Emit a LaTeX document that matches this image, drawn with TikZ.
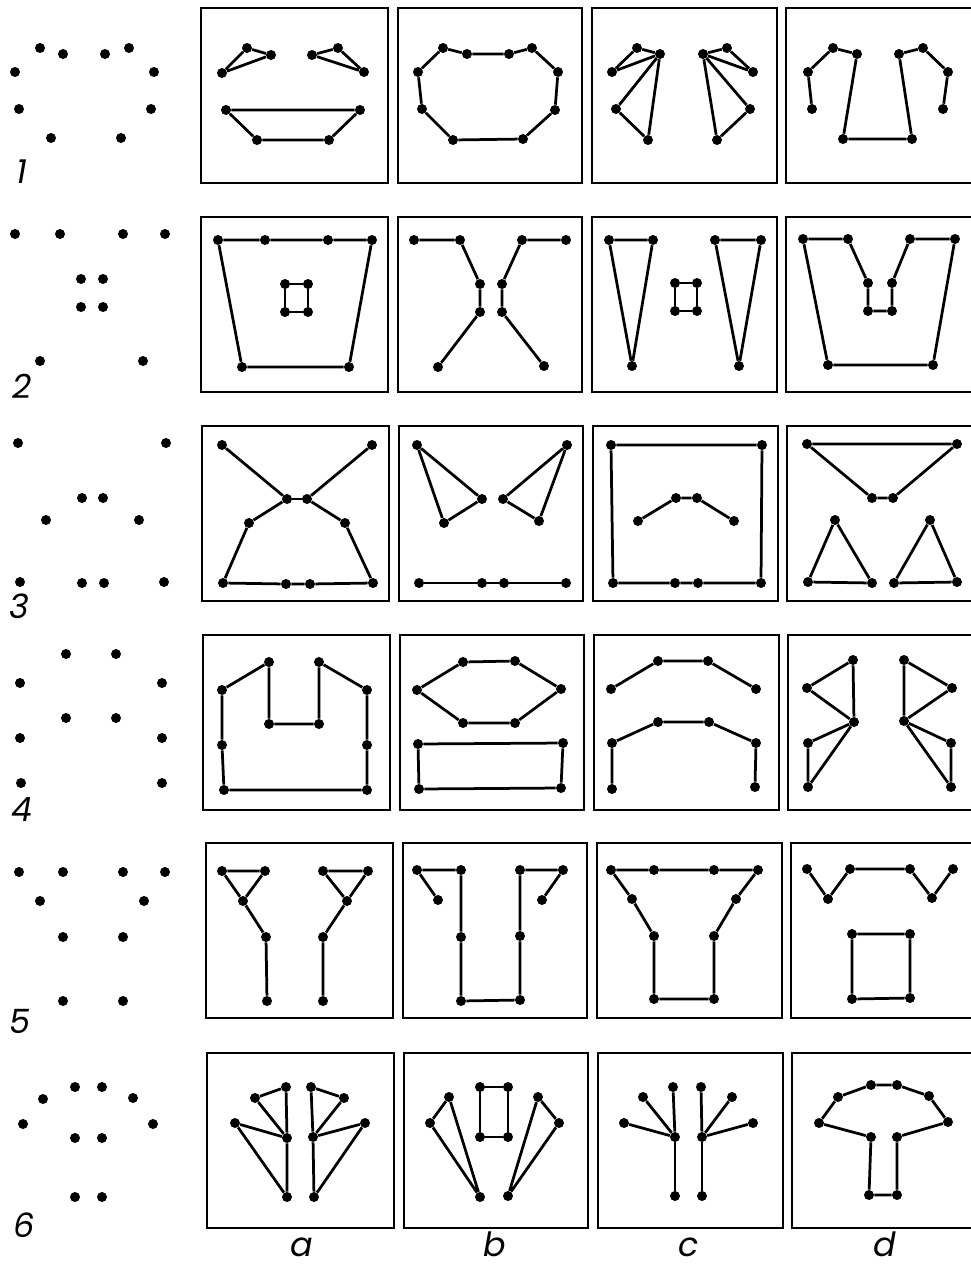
\documentclass[tikz,border=0pt]{standalone}
\usepackage{fontspec}
\newfontfamily\tagfont{Poppins}
\tikzset{
  spot/.style={circle, fill, inner sep=0pt, minimum size=2mm},
  link/.style={line width=0.55mm, line join=round},
  panel/.style={line width=0.3mm},
  tag/.style={anchor=base, inner sep=0pt, font=\tagfont\itshape\fontsize{19}{22}\selectfont}
}
\begin{document}
\begin{tikzpicture}[x=0.2mm, y=-0.2mm]
    \useasboundingbox (0,0) rectangle (971,1270);

    % Panels of the four answers
    \foreach \top/\dx in {8/0, 217/0, 426/1, 635/2, 843/5, 1053/6}
      \foreach \l/\r in {201/388, 398/582, 592/777, 786/972}
        \draw[panel] ({\l+\dx},\top) rectangle ({\r+\dx},{\top+175});

    % Row numbers and column letters
    \node[tag] (n1) at (22,183) {1};
    \node[tag] (n2) at (22,398) {2};
    \node[tag] (n3) at (19,618) {3};
    \node[tag] (n4) at (22,821) {4};
    \node[tag] (n5) at (20,1033) {5};
    \node[tag] (n6) at (24,1237) {6};
    \node[tag] (ca) at (302,1256) {a};
    \node[tag] (cb) at (495,1256) {b};
    \node[tag] (cc) at (689,1256) {c};
    \node[tag] (cd) at (885,1256) {d};

    % Row 1
    \foreach \i/\x/\y in {1/40/48, 2/63/54, 3/105/54, 4/129/48, 5/15/72, 6/154/72, 7/19/109, 8/151/109, 9/51/138, 10/121/138}
      \node[spot] (q1-\i) at (\x,\y) {};
    \foreach \i/\x/\y in {1/247/48, 2/271/55, 3/222/73, 4/312/55, 5/338/48, 6/364/72, 7/226/110, 8/360/110, 9/257/140, 10/329/140}
      \node[spot] (1a-\i) at (\x,\y) {};
    \draw[link] (1a-3) -- (1a-1) -- (1a-2) -- (1a-3);
    \draw[link] (1a-4) -- (1a-5) -- (1a-6) -- (1a-4);
    \draw[link] (1a-7) -- (1a-8) -- (1a-10) -- (1a-9) -- (1a-7);
    \foreach \i/\x/\y in {1/443/48, 2/467/54, 3/509/54, 4/532/48, 5/558/72, 6/555/110, 7/523/139, 8/453/140, 9/422/109, 10/418/72}
      \node[spot] (1b-\i) at (\x,\y) {};
    \draw[link] (1b-1) -- (1b-2) -- (1b-3) -- (1b-4) -- (1b-5) -- (1b-6) -- (1b-7) -- (1b-8) -- (1b-9) -- (1b-10) -- (1b-1);
    \foreach \i/\x/\y in {1/637/48, 2/660/54, 3/612/72, 4/616/109, 5/648/140, 6/703/54, 7/727/48, 8/753/72, 9/750/109, 10/717/140}
      \node[spot] (1c-\i) at (\x,\y) {};
    \draw[link] (1c-3) -- (1c-1) -- (1c-2) -- (1c-3);
    \draw[link] (1c-2) -- (1c-4) -- (1c-5) -- (1c-2);
    \draw[link] (1c-6) -- (1c-7) -- (1c-8) -- (1c-6);
    \draw[link] (1c-6) -- (1c-9) -- (1c-10) -- (1c-6);
    \foreach \i/\x/\y in {1/812/109, 2/808/72, 3/833/48, 4/857/54, 5/843/139, 6/912/139, 7/899/54, 8/923/48, 9/948/72, 10/943/109}
      \node[spot] (1d-\i) at (\x,\y) {};
    \draw[link] (1d-1) -- (1d-2) -- (1d-3) -- (1d-4) -- (1d-5) -- (1d-6) -- (1d-7) -- (1d-8) -- (1d-9) -- (1d-10);

    % Row 2
    \foreach \i/\x/\y in {1/15/234, 2/60/234, 3/123/234, 4/165/234, 5/81/279, 6/103/279, 7/81/307, 8/103/307, 9/40/361, 10/143/361}
      \node[spot] (q2-\i) at (\x,\y) {};
    \foreach \i/\x/\y in {1/218/240, 2/265/240, 3/328/240, 4/372/240, 5/349/367, 6/242/367, 7/285/284, 8/308/284, 9/308/312, 10/285/312}
      \node[spot] (2a-\i) at (\x,\y) {};
    \draw[link] (2a-1) -- (2a-2) -- (2a-3) -- (2a-4) -- (2a-5) -- (2a-6) -- (2a-1);
    \draw[link] (2a-7) -- (2a-8) -- (2a-9) -- (2a-10) -- (2a-7);
    \foreach \i/\x/\y in {1/414/240, 2/460/240, 3/480/284, 4/480/312, 5/438/367, 6/566/240, 7/522/240, 8/502/284, 9/502/312, 10/544/366}
      \node[spot] (2b-\i) at (\x,\y) {};
    \draw[link] (2b-1) -- (2b-2) -- (2b-3) -- (2b-4) -- (2b-5);
    \draw[link] (2b-6) -- (2b-7) -- (2b-8) -- (2b-9) -- (2b-10);
    \foreach \i/\x/\y in {1/609/240, 2/653/240, 3/632/366, 4/715/240, 5/761/240, 6/739/366, 7/675/283, 8/697/283, 9/697/311, 10/675/311}
      \node[spot] (2c-\i) at (\x,\y) {};
    \draw[link] (2c-1) -- (2c-2) -- (2c-3) -- (2c-1);
    \draw[link] (2c-4) -- (2c-5) -- (2c-6) -- (2c-4);
    \draw[link] (2c-7) -- (2c-8) -- (2c-9) -- (2c-10) -- (2c-7);
    \foreach \i/\x/\y in {1/803/239, 2/848/239, 3/868/283, 4/868/311, 5/892/311, 6/892/283, 7/910/239, 8/955/239, 9/933/365, 10/828/365}
      \node[spot] (2d-\i) at (\x,\y) {};
    \draw[link] (2d-1) -- (2d-2) -- (2d-3) -- (2d-4) -- (2d-5) -- (2d-6) -- (2d-7) -- (2d-8) -- (2d-9) -- (2d-10) -- (2d-1);

    % Row 3
    \foreach \i/\x/\y in {1/18/443, 2/166/443, 3/82/498, 4/103/498, 5/46/520, 6/139/520, 7/20/582, 8/82/583, 9/104/583, 10/164/582}
      \node[spot] (q3-\i) at (\x,\y) {};
    \foreach \i/\x/\y in {1/222/445, 2/372/445, 3/287/499, 4/307/499, 5/249/523, 6/345/523, 7/223/583, 8/286/584, 9/310/584, 10/373/583}
      \node[spot] (3a-\i) at (\x,\y) {};
    \draw[link] (3a-1) -- (3a-3) -- (3a-5) -- (3a-7) -- (3a-8) -- (3a-9) -- (3a-10) -- (3a-6) -- (3a-4) -- (3a-2);
    \draw[link] (3a-3) -- (3a-4);
    \foreach \i/\x/\y in {1/417/445, 2/482/499, 3/444/523, 4/567/445, 5/503/499, 6/539/521, 7/419/583, 8/482/583, 9/504/583, 10/566/583}
      \node[spot] (3b-\i) at (\x,\y) {};
    \draw[link] (3b-1) -- (3b-2) -- (3b-3) -- (3b-1);
    \draw[link] (3b-4) -- (3b-5) -- (3b-6) -- (3b-4);
    \draw[link] (3b-7) -- (3b-8) -- (3b-9) -- (3b-10);
    \foreach \i/\x/\y in {1/611/445, 2/762/445, 3/761/583, 4/698/583, 5/675/583, 6/613/583, 7/638/521, 8/676/498, 9/697/498, 10/734/521}
      \node[spot] (3c-\i) at (\x,\y) {};
    \draw[link] (3c-1) -- (3c-2) -- (3c-3) -- (3c-4) -- (3c-5) -- (3c-6) -- (3c-1);
    \draw[link] (3c-7) -- (3c-8) -- (3c-9) -- (3c-10);
    \foreach \i/\x/\y in {1/807/444, 2/957/444, 3/893/498, 4/872/498, 5/835/520, 6/808/582, 7/872/583, 8/930/520, 9/894/583, 10/957/582}
      \node[spot] (3d-\i) at (\x,\y) {};
    \draw[link] (3d-1) -- (3d-2) -- (3d-3) -- (3d-4) -- (3d-1);
    \draw[link] (3d-5) -- (3d-6) -- (3d-7) -- (3d-5);
    \draw[link] (3d-8) -- (3d-9) -- (3d-10) -- (3d-8);

    % Row 4
    \foreach \i/\x/\y in {1/66/654, 2/116/654, 3/20/683, 4/162/683, 5/66/718, 6/116/718, 7/20/738, 8/162/738, 9/21/783, 10/162/783}
      \node[spot] (q4-\i) at (\x,\y) {};
    \foreach \i/\x/\y in {1/222/690, 2/269/662, 3/269/724, 4/319/724, 5/319/662, 6/367/690, 7/367/745, 8/367/790, 9/224/790, 10/222/745}
      \node[spot] (4a-\i) at (\x,\y) {};
    \draw[link] (4a-1) -- (4a-2) -- (4a-3) -- (4a-4) -- (4a-5) -- (4a-6) -- (4a-7) -- (4a-8) -- (4a-9) -- (4a-10) -- (4a-1);
    \foreach \i/\x/\y in {1/417/690, 2/463/662, 3/515/661, 4/561/689, 5/515/723, 6/463/723, 7/418/744, 8/563/743, 9/561/788, 10/419/789}
      \node[spot] (4b-\i) at (\x,\y) {};
    \draw[link] (4b-1) -- (4b-2) -- (4b-3) -- (4b-4) -- (4b-5) -- (4b-6) -- (4b-1);
    \draw[link] (4b-7) -- (4b-8) -- (4b-9) -- (4b-10) -- (4b-7);
    \foreach \i/\x/\y in {1/611/689, 2/658/661, 3/708/661, 4/756/689, 5/612/789, 6/612/743, 7/658/722, 8/709/722, 9/756/743, 10/755/787}
      \node[spot] (4c-\i) at (\x,\y) {};
    \draw[link] (4c-1) -- (4c-2) -- (4c-3) -- (4c-4);
    \draw[link] (4c-5) -- (4c-6) -- (4c-7) -- (4c-8) -- (4c-9) -- (4c-10);
    \foreach \i/\x/\y in {1/853/660, 2/807/688, 3/854/722, 4/808/743, 5/808/787, 6/904/660, 7/952/688, 8/904/721, 9/951/743, 10/951/787}
      \node[spot] (4d-\i) at (\x,\y) {};
    \draw[link] (4d-1) -- (4d-2) -- (4d-3) -- (4d-1);
    \draw[link] (4d-3) -- (4d-4) -- (4d-5) -- (4d-3);
    \draw[link] (4d-6) -- (4d-7) -- (4d-8) -- (4d-6);
    \draw[link] (4d-8) -- (4d-9) -- (4d-10) -- (4d-8);

    % Row 5
    \foreach \i/\x/\y in {1/19/872, 2/63/872, 3/123/872, 4/165/872, 5/40/901, 6/144/901, 7/63/937, 8/123/937, 9/63/1001, 10/123/1001}
      \node[spot] (q5-\i) at (\x,\y) {};
    \foreach \i/\x/\y in {1/222/871, 2/265/871, 3/243/901, 4/266/937, 5/267/1001, 6/323/871, 7/368/871, 8/347/901, 9/323/937, 10/323/1001}
      \node[spot] (5a-\i) at (\x,\y) {};
    \draw[link] (5a-1) -- (5a-2) -- (5a-3) -- (5a-1);
    \draw[link] (5a-3) -- (5a-4) -- (5a-5);
    \draw[link] (5a-6) -- (5a-7) -- (5a-8) -- (5a-6);
    \draw[link] (5a-8) -- (5a-9) -- (5a-10);
    \foreach \i/\x/\y in {1/438/900, 2/417/870, 3/461/870, 4/461/937, 5/461/1001, 6/520/1000, 7/520/936, 8/520/870, 9/563/870, 10/542/900}
      \node[spot] (5b-\i) at (\x,\y) {};
    \draw[link] (5b-1) -- (5b-2) -- (5b-3) -- (5b-4) -- (5b-5) -- (5b-6) -- (5b-7) -- (5b-8) -- (5b-9) -- (5b-10);
    \foreach \i/\x/\y in {1/611/870, 2/654/870, 3/714/870, 4/758/870, 5/736/899, 6/714/936, 7/714/999, 8/654/999, 9/654/936, 10/632/899}
      \node[spot] (5c-\i) at (\x,\y) {};
    \draw[link] (5c-1) -- (5c-2) -- (5c-3) -- (5c-4) -- (5c-5) -- (5c-6) -- (5c-7) -- (5c-8) -- (5c-9) -- (5c-10) -- (5c-1);
    \foreach \i/\x/\y in {1/807/869, 2/828/899, 3/850/869, 4/910/869, 5/932/898, 6/953/869, 7/852/934, 8/910/934, 9/910/998, 10/852/999}
      \node[spot] (5d-\i) at (\x,\y) {};
    \draw[link] (5d-1) -- (5d-2) -- (5d-3) -- (5d-4) -- (5d-5) -- (5d-6);
    \draw[link] (5d-7) -- (5d-8) -- (5d-9) -- (5d-10) -- (5d-7);

    % Row 6
    \foreach \i/\x/\y in {1/75/1087, 2/102/1087, 3/43/1099, 4/133/1098, 5/23/1124, 6/153/1124, 7/75/1138, 8/102/1138, 9/75/1197, 10/102/1197}
      \node[spot] (q6-\i) at (\x,\y) {};
    \foreach \i/\x/\y in {1/286/1087, 2/255/1098, 3/235/1123, 4/287/1138, 5/287/1197, 6/311/1087, 7/344/1098, 8/365/1123, 9/313/1137, 10/314/1197}
      \node[spot] (6a-\i) at (\x,\y) {};
    \draw[link] (6a-1) -- (6a-2) -- (6a-4) -- (6a-1);
    \draw[link] (6a-3) -- (6a-4) -- (6a-5) -- (6a-3);
    \draw[link] (6a-6) -- (6a-7) -- (6a-9) -- (6a-6);
    \draw[link] (6a-8) -- (6a-9) -- (6a-10) -- (6a-8);
    \foreach \i/\x/\y in {1/449/1097, 2/430/1123, 3/480/1197, 4/480/1087, 5/508/1087, 6/508/1137, 7/480/1137, 8/538/1097, 9/559/1123, 10/508/1196}
      \node[spot] (6b-\i) at (\x,\y) {};
    \draw[link] (6b-1) -- (6b-2) -- (6b-3) -- (6b-1);
    \draw[link] (6b-4) -- (6b-5) -- (6b-6) -- (6b-7) -- (6b-4);
    \draw[link] (6b-8) -- (6b-9) -- (6b-10) -- (6b-8);
    \foreach \i/\x/\y in {1/673/1087, 2/643/1097, 3/624/1123, 4/675/1137, 5/675/1196, 6/701/1087, 7/732/1097, 8/753/1123, 9/702/1137, 10/702/1196}
      \node[spot] (6c-\i) at (\x,\y) {};
    \foreach \j in {1,2,3,5}
      \draw[link] (6c-4) -- (6c-\j);
    \foreach \j in {6,7,8,10}
      \draw[link] (6c-9) -- (6c-\j);
    \foreach \i/\x/\y in {1/819/1123, 2/838/1097, 3/871/1085, 4/897/1085, 5/929/1096, 6/948/1122, 7/897/1137, 8/897/1195, 9/869/1195, 10/871/1137}
      \node[spot] (6d-\i) at (\x,\y) {};
    \draw[link] (6d-1) -- (6d-2) -- (6d-3) -- (6d-4) -- (6d-5) -- (6d-6) -- (6d-7) -- (6d-8) -- (6d-9) -- (6d-10) -- (6d-1);
\end{tikzpicture}
\end{document}
